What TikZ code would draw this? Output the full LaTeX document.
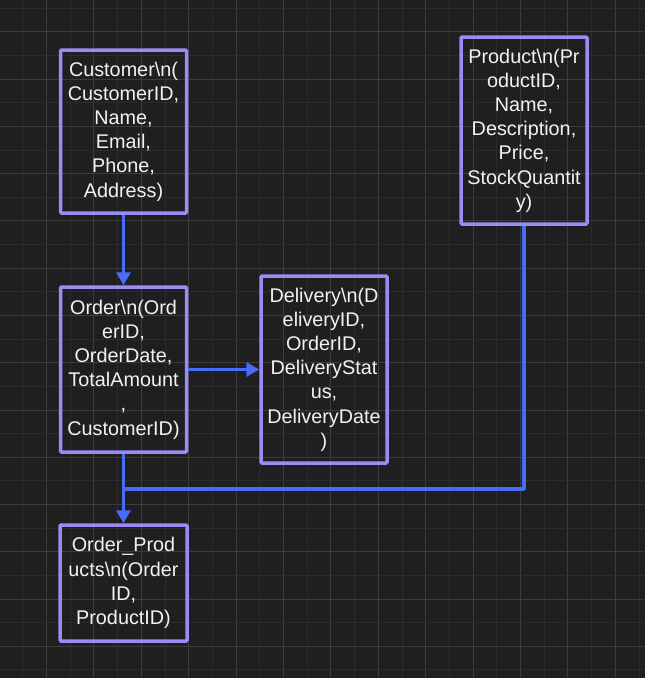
\documentclass[tikz,border=0pt]{standalone}
\usepackage{fontspec}
\setmainfont{Liberation Sans}
\usetikzlibrary{arrows.meta}
\definecolor{bgc}{RGB}{31,31,31}
\definecolor{gridminor}{RGB}{44,44,44}
\definecolor{gridmajor}{RGB}{60,60,60}
\definecolor{boxc}{RGB}{155,140,245}
\definecolor{arrc}{RGB}{72,108,245}
\definecolor{txtc}{RGB}{242,242,242}
\tikzset{
  entity/.style={draw=boxc, line width=3.5pt, rectangle, inner sep=0pt, align=center,
    text=txtc, font=\fontsize{19.8}{24.2}\selectfont, rounded corners=1pt},
  conn/.style={draw=arrc, line width=3.5pt, line join=round},
  arr/.style={conn, -{Triangle[length=13pt,width=14pt]}},
}
\begin{document}
\begin{tikzpicture}[x=1pt,y=-1pt]
\fill[bgc] (0,0) rectangle (645,678);
\useasboundingbox (0,0) rectangle (645,678);
% grid
\foreach \i in {0,...,28} {
  \pgfmathsetmacro{\xx}{-0.9+23.7*\i}
  \ifodd\i
    \draw[gridminor, line width=1pt] (\xx,0) -- (\xx,678);
  \else
    \draw[gridmajor, line width=1pt] (\xx,0) -- (\xx,678);
  \fi
}
\foreach \i in {0,...,28} {
  \pgfmathsetmacro{\yy}{8.3+23.63*\i}
  \ifodd\i
    \draw[gridmajor, line width=1pt] (0,\yy) -- (645,\yy);
  \else
    \draw[gridminor, line width=1pt] (0,\yy) -- (645,\yy);
  \fi
}
% nodes
\node[entity, minimum width=126pt, minimum height=163pt] (cust) at (123.5,131.5)
  {Customer\textbackslash n(\\CustomerID,\\Name,\\Email,\\Phone,\\Address)};
\node[entity, minimum width=126pt, minimum height=165pt] (order) at (123.5,369.5)
  {Order\textbackslash n(Ord\\erID,\\OrderDate,\\TotalAmount\\,\\CustomerID)};
\node[entity, minimum width=126pt, minimum height=187pt] (deliv) at (324,369.5)
  {Delivery\textbackslash n(D\\eliveryID,\\OrderID,\\DeliveryStat\\us,\\DeliveryDate\\)};
\node[entity, minimum width=126pt, minimum height=187pt] (prod) at (524,130.5)
  {Product\textbackslash n(Pr\\oductID,\\Name,\\Description,\\Price,\\StockQuantit\\y)};
\node[entity, minimum width=127pt, minimum height=116pt] (op) at (123.5,583)
  {Order\_Prod\\ucts\textbackslash n(Order\\ID,\\ProductID)};
\coordinate (j) at (123.5,489);
% connectors
\draw[arr] (cust.south) -- (order.north);
\draw[arr] (order.east) -- (deliv.west);
\draw[arr] (order.south) -- (op.north);
\draw[conn] (prod.south) |- (j);
\end{tikzpicture}
\end{document}
